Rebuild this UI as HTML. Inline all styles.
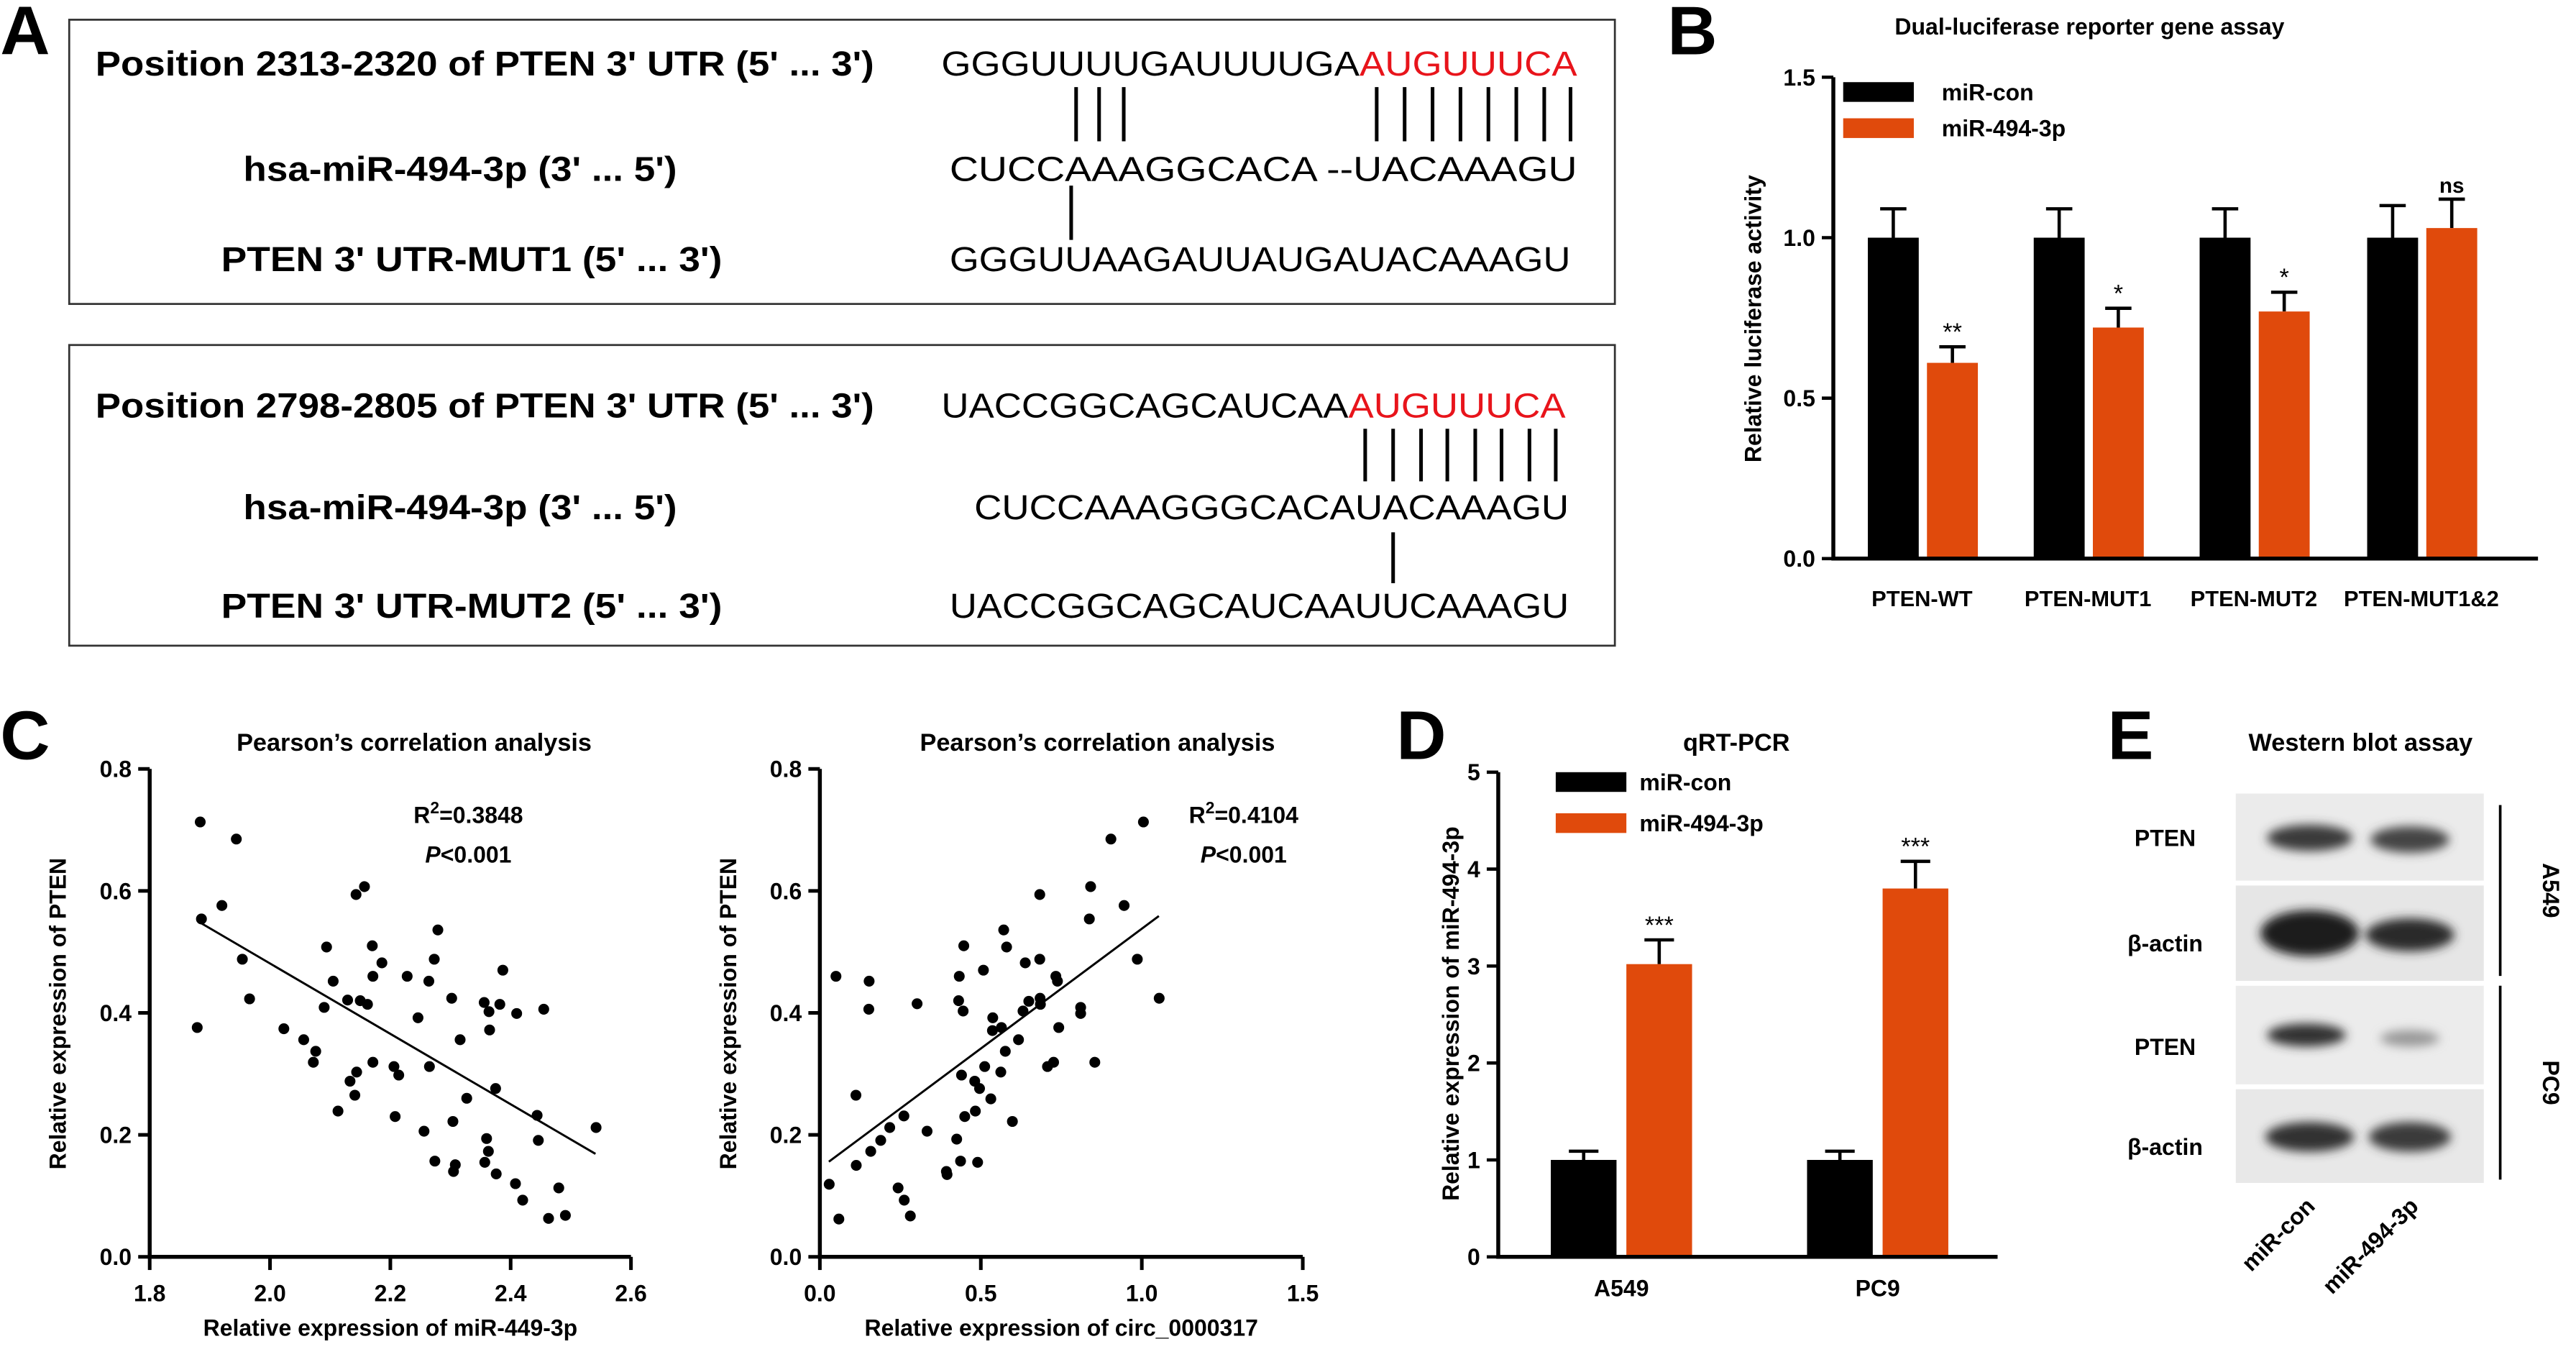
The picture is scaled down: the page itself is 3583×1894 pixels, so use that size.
<!DOCTYPE html>
<html><head><meta charset="utf-8"><style>
html,body{margin:0;padding:0;background:#fff}
svg{display:block;font-family:"Liberation Sans",sans-serif}
</style></head><body>
<svg id="fig" width="3583" height="1894" viewBox="0 0 1568 829" xmlns="http://www.w3.org/2000/svg">
<rect width="1568" height="829" fill="#fff"/>
<!-- Panel letters -->
<g font-weight="bold" font-size="42" fill="#000">
<text x="0" y="33">A</text>
<text x="1015" y="33">B</text>
<text x="0" y="462">C</text>
<text x="850" y="462">D</text>
<text x="1283" y="462">E</text>
</g>
<!-- Panel A -->
<g>
<rect x="42" y="12" width="941" height="173" fill="none" stroke="#333" stroke-width="1.2"/>
<rect x="42" y="210" width="941" height="183" fill="none" stroke="#333" stroke-width="1.2"/>
<g font-weight="bold" font-size="21" text-anchor="middle">
<text x="295" y="46" textLength="474" lengthAdjust="spacingAndGlyphs">Position 2313-2320 of PTEN 3' UTR (5' ... 3')</text>
<text x="280" y="110" textLength="264" lengthAdjust="spacingAndGlyphs">hsa-miR-494-3p (3' ... 5')</text>
<text x="287" y="165" textLength="305" lengthAdjust="spacingAndGlyphs">PTEN 3' UTR-MUT1 (5' ... 3')</text>
<text x="295" y="254" textLength="474" lengthAdjust="spacingAndGlyphs">Position 2798-2805 of PTEN 3' UTR (5' ... 3')</text>
<text x="280" y="316" textLength="264" lengthAdjust="spacingAndGlyphs">hsa-miR-494-3p (3' ... 5')</text>
<text x="287" y="376" textLength="305" lengthAdjust="spacingAndGlyphs">PTEN 3' UTR-MUT2 (5' ... 3')</text>
</g>
<g font-size="21">
<text x="573" y="46" textLength="387" lengthAdjust="spacingAndGlyphs">GGGUUUUGAUUUUGA<tspan fill="#e8141b">AUGUUUCA</tspan></text>
<text x="578" y="110" textLength="382" lengthAdjust="spacingAndGlyphs">CUCCAAAGGCACA --UACAAAGU</text>
<text x="578" y="165" textLength="378" lengthAdjust="spacingAndGlyphs">GGGUUAAGAUUAUGAUACAAAGU</text>
<text x="573" y="254" textLength="380" lengthAdjust="spacingAndGlyphs">UACCGGCAGCAUCAA<tspan fill="#e8141b">AUGUUUCA</tspan></text>
<text x="593" y="316" textLength="362" lengthAdjust="spacingAndGlyphs">CUCCAAAGGGCACAUACAAAGU</text>
<text x="578" y="376" textLength="377" lengthAdjust="spacingAndGlyphs">UACCGGCAGCAUCAAUUCAAAGU</text>
</g>
<g stroke="#000" stroke-width="2.2">
<path d="M655 53V86M669 53V86M684 53V86M838 53V86M855 53V86M872 53V86M889 53V86M906 53V86M923 53V86M940 53V86M956 53V86"/>
<path d="M652 113V146"/>
<path d="M831 261V293M848 261V293M865 261V293M881 261V293M898 261V293M914 261V293M931 261V293M947 261V293"/>
<path d="M848 324V355"/>
</g>
</g>
<g id="charts"></g>
</svg>
<script>
// ---- Panel B data ----
const bCategories = ["PTEN-WT","PTEN-MUT1","PTEN-MUT2","PTEN-MUT1&2"];
const bConValues = [1.0,1.0,1.0,1.0];
const bConErrors = [0.09,0.09,0.09,0.10];
const bMirValues = [0.61,0.72,0.77,1.03];
const bMirErrors = [0.05,0.06,0.06,0.09];
const bSig = ["**","*","*","ns"];
const bTicks = [0.0,0.5,1.0,1.5];
// ---- Panel C left ----
const c1X = [1.884,1.944,1.920,1.886,1.954,1.966,1.879,2.094,2.105,2.090,2.023,2.056,2.076,2.072,2.143,2.157,2.170,2.186,2.171,2.129,2.150,2.162,2.171,2.144,2.133,2.141,2.113,2.228,2.279,2.273,2.264,2.246,2.302,2.316,2.206,2.214,2.265,2.208,2.256,2.274,2.304,2.327,2.305,2.308,2.356,2.364,2.365,2.382,2.387,2.410,2.455,2.375,2.360,2.363,2.357,2.376,2.444,2.446,2.408,2.420,2.480,2.463,2.491,2.542];
const c1Y = [0.713,0.685,0.576,0.554,0.488,0.423,0.376,0.508,0.452,0.409,0.374,0.356,0.337,0.319,0.594,0.607,0.510,0.482,0.460,0.421,0.420,0.414,0.319,0.303,0.288,0.265,0.239,0.460,0.536,0.488,0.452,0.392,0.424,0.356,0.312,0.298,0.312,0.230,0.206,0.157,0.222,0.260,0.140,0.151,0.417,0.402,0.372,0.414,0.470,0.399,0.406,0.276,0.194,0.173,0.155,0.136,0.232,0.191,0.120,0.093,0.113,0.063,0.068,0.212];
const c1Fit = [-0.577,1.635];
const c1FitRange = [1.886,2.541];
const c1XTicks = [1.8,2.0,2.2,2.4,2.6];
const cYTicks = [0.0,0.2,0.4,0.6,0.8];
// ---- Panel C right ----
const c2X = [0.050,0.153,0.152,0.112,0.113,0.158,0.189,0.217,0.261,0.029,0.059,0.243,0.262,0.281,0.302,0.333,0.393,0.395,0.425,0.437,0.490,0.433,0.447,0.431,0.445,0.440,0.450,0.483,0.481,0.496,0.508,0.512,0.531,0.537,0.536,0.564,0.562,0.576,0.598,0.617,0.631,0.638,0.649,0.571,0.580,0.683,0.683,0.684,0.685,0.707,0.726,0.733,0.738,0.742,0.810,0.810,0.854,0.841,0.837,0.904,0.945,0.986,1.005,1.054];
const c2Y = [0.460,0.452,0.406,0.265,0.150,0.173,0.191,0.212,0.231,0.119,0.062,0.113,0.093,0.067,0.415,0.206,0.140,0.135,0.193,0.157,0.155,0.460,0.510,0.420,0.403,0.298,0.230,0.239,0.288,0.276,0.470,0.312,0.259,0.392,0.371,0.376,0.303,0.337,0.222,0.356,0.403,0.482,0.419,0.536,0.508,0.594,0.488,0.424,0.414,0.312,0.319,0.460,0.452,0.376,0.409,0.399,0.319,0.607,0.554,0.685,0.576,0.488,0.713,0.424];
const c2Fit = [0.393,0.145];
const c2FitRange = [0.028,1.053];
const c2XTicks = [0.0,0.5,1.0,1.5];
// ---- Panel D ----
const dCategories = ["A549","PC9"];
const dConValues = [1.0,1.0];
const dConErrors = [0.09,0.09];
const dMirValues = [3.02,3.80];
const dMirErrors = [0.25,0.28];
const dSig = ["***","***"];
const dTicks = [0,1,2,3,4,5];

const NS="http://www.w3.org/2000/svg";
const root=document.getElementById('charts');
function mk(tag,attrs,parent,txt){const e=document.createElementNS(NS,tag);for(const k in attrs)e.setAttribute(k,attrs[k]);if(txt!==undefined)e.textContent=txt;(parent||root).appendChild(e);return e;}
const RED="#e04a0c";

// ===== Panel B =====
(function(){
const g=mk('g',{});


const x0=1116,x1=1545,y0=340,y1=47;
const ys=v=>y0-(v-0)/(1.5-0)*(y0-y1);
const centers=[1170,1271,1372,1474];
const bw=31;
mk('text',{x:1272,y:21,'text-anchor':'middle','font-size':14,'font-weight':'bold'},g,'Dual-luciferase reporter gene assay');
bTicks.forEach(t=>{
 const tk=mk('line',{x1:x0-7,x2:x0,y1:ys(t),y2:ys(t),stroke:'#000','stroke-width':2},g);
 
 
 const tl=mk('text',{x:x0-11,y:ys(t)+5,'text-anchor':'end','font-size':14,'font-weight':'bold'},g,t.toFixed(1));
 
 
});
const yt=mk('text',{transform:'translate(1072,194) rotate(-90)','text-anchor':'middle','font-size':14,'font-weight':'bold'},g,'Relative luciferase activity');


bCategories.forEach((c,i)=>{
 const cx=centers[i];
 const xb=cx-bw-2, xr=cx+3;
 const e1=mk('path',{d:`M${xb+bw/2} ${ys(bConValues[i]+bConErrors[i])}V${ys(bConValues[i])}M${xb+bw/2-8} ${ys(bConValues[i]+bConErrors[i])}H${xb+bw/2+8}`,stroke:'#000','stroke-width':2,fill:'none'},g);
 
 
 const b1=mk('rect',{x:xb,y:ys(bConValues[i]),width:bw,height:y0-ys(bConValues[i]),fill:'#000'},g);
 
 
 const e2=mk('path',{d:`M${xr+bw/2} ${ys(bMirValues[i]+bMirErrors[i])}V${ys(bMirValues[i])}M${xr+bw/2-8} ${ys(bMirValues[i]+bMirErrors[i])}H${xr+bw/2+8}`,stroke:'#000','stroke-width':2,fill:'none'},g);
 
 
 const b2=mk('rect',{x:xr,y:ys(bMirValues[i]),width:bw,height:y0-ys(bMirValues[i]),fill:RED},g);
 
 
 const s=mk('text',{x:xr+bw/2,y:ys(bMirValues[i]+bMirErrors[i])-4,'text-anchor':'middle','font-size':bSig[i]==='ns'?13:15,'font-weight':bSig[i]==='ns'?'bold':'normal'},g,bSig[i]);
 
 
 const xl=mk('text',{x:cx,y:369,'text-anchor':'middle','font-size':13.5,'font-weight':'bold'},g,c);
 
 
});
const ax=mk('path',{d:`M${x0} ${y1}V${y0}H${x1}`,stroke:'#000','stroke-width':2.4,fill:'none'},g);


const lg=mk('g',{},g);


mk('rect',{x:1122,y:50,width:43,height:12,fill:'#000'},lg);
mk('text',{x:1182,y:61,'font-size':14,'font-weight':'bold'},lg,'miR-con');
mk('rect',{x:1122,y:72,width:43,height:12,fill:RED},lg);
mk('text',{x:1182,y:83,'font-size':14,'font-weight':'bold'},lg,'miR-494-3p');
})();

// ===== Scatter builder =====
function scatter(name,xs,ysArr,fit,fitR,xTicks,xr,axX0,axX1,title,xtitle,tcx,rx,r2,rlab){
 const g=mk('g',{});
 
 
 const y0=765,y1=468;
 const sx=v=>axX0+(v-xr[0])/(xr[1]-xr[0])*(axX1-axX0);
 const sy=v=>y0-v/0.8*(y0-y1);
 const t=mk('text',{x:tcx,y:457,'text-anchor':'middle','font-size':15,'font-weight':'bold'},g,title);
 
 
 cYTicks.forEach(v=>{
  const tk=mk('line',{x1:axX0-7,x2:axX0,y1:sy(v),y2:sy(v),stroke:'#000','stroke-width':2.2},g);
  
  
  const tl=mk('text',{x:axX0-11,y:sy(v)+5,'text-anchor':'end','font-size':14,'font-weight':'bold'},g,v.toFixed(1));
  
  
 });
 xTicks.forEach(v=>{
  const tk=mk('line',{x1:sx(v),x2:sx(v),y1:y0,y2:y0+8,stroke:'#000','stroke-width':2.2},g);
  
  
  const tl=mk('text',{x:sx(v),y:y0+27,'text-anchor':'middle','font-size':14,'font-weight':'bold'},g,v.toFixed(1));
  
  
 });
 const ax=mk('path',{d:`M${axX0} ${y1}V${y0}H${axX1}`,stroke:'#000','stroke-width':2.4,fill:'none'},g);
 
 
 const yt=mk('text',{transform:`translate(${axX0-51},617) rotate(-90)`,'text-anchor':'middle','font-size':14,'font-weight':'bold'},g,'Relative expression of PTEN');
 
 
 const xt=mk('text',{x:(axX0+axX1)/2,y:813,'text-anchor':'middle','font-size':14,'font-weight':'bold'},g,xtitle);
 
 
 xs.forEach((x,i)=>{
  const c=mk('circle',{cx:sx(x),cy:sy(ysArr[i]),r:3.3,fill:'#000'},g);
  
  
 });
 const ln=mk('line',{x1:sx(fitR[0]),y1:sy(fit[0]*fitR[0]+fit[1]),x2:sx(fitR[1]),y2:sy(fit[0]*fitR[1]+fit[1]),stroke:'#000','stroke-width':1.3},g);
 
 
 const rt=mk('text',{x:rx,y:501,'text-anchor':'middle','font-size':14,'font-weight':'bold'},g);
 
 
 rt.innerHTML='R<tspan dy="-6" font-size="10">2</tspan><tspan dy="6">='+r2+'</tspan>';
 const pt=mk('text',{x:rx,y:525,'text-anchor':'middle','font-size':14,'font-weight':'bold'},g);
 
 
 pt.innerHTML='<tspan font-style="italic">P</tspan>&lt;0.001';
}
scatter('panel-c-scatter-left',c1X,c1Y,c1Fit,c1FitRange,c1XTicks,[1.8,2.6],91,384,"Pearson\u2019s correlation analysis",'Relative expression of miR-449-3p',252,285,'0.3848');
scatter('panel-c-scatter-right',c2X,c2Y,c2Fit,c2FitRange,c2XTicks,[0,1.5],499,793,"Pearson\u2019s correlation analysis",'Relative expression of circ_0000317',668,757,'0.4104');

// ===== Panel D =====
(function(){
 const g=mk('g',{});
 
 
 const x0=912,x1=1216,y0=765,y1=470;
 const ys=v=>y0-v/5*(y0-y1);
 const centers=[987,1143];const bw=40;
 const t=mk('text',{x:1057,y:457,'text-anchor':'middle','font-size':15,'font-weight':'bold'},g,'qRT-PCR');
 
 
 dTicks.forEach(v=>{
  const tk=mk('line',{x1:x0-7,x2:x0,y1:ys(v),y2:ys(v),stroke:'#000','stroke-width':2},g);
  
  
  const tl=mk('text',{x:x0-11,y:ys(v)+5,'text-anchor':'end','font-size':14,'font-weight':'bold'},g,String(v));
  
  
 });
 const yt=mk('text',{transform:'translate(888,617) rotate(-90)','text-anchor':'middle','font-size':14,'font-weight':'bold'},g,'Relative expression of miR-494-3p');
 
 
 dCategories.forEach((c,i)=>{
  const cx=centers[i];const xb=cx-bw-3,xr=cx+3;
  const e1=mk('path',{d:`M${xb+bw/2} ${ys(dConValues[i]+dConErrors[i])}V${ys(dConValues[i])}M${xb+bw/2-9} ${ys(dConValues[i]+dConErrors[i])}H${xb+bw/2+9}`,stroke:'#000','stroke-width':2,fill:'none'},g);
  
  
  const b1=mk('rect',{x:xb,y:ys(dConValues[i]),width:bw,height:y0-ys(dConValues[i]),fill:'#000'},g);
  
  
  const e2=mk('path',{d:`M${xr+bw/2} ${ys(dMirValues[i]+dMirErrors[i])}V${ys(dMirValues[i])}M${xr+bw/2-9} ${ys(dMirValues[i]+dMirErrors[i])}H${xr+bw/2+9}`,stroke:'#000','stroke-width':2,fill:'none'},g);
  
  
  const b2=mk('rect',{x:xr,y:ys(dMirValues[i]),width:bw,height:y0-ys(dMirValues[i]),fill:RED},g);
  
  
  const s=mk('text',{x:xr+bw/2,y:ys(dMirValues[i]+dMirErrors[i])-4,'text-anchor':'middle','font-size':15},g,dSig[i]);
  
  
  const xl=mk('text',{x:cx,y:789,'text-anchor':'middle','font-size':14,'font-weight':'bold'},g,c);
  
  
 });
 const ax=mk('path',{d:`M${x0} ${y1}V${y0}H${x1}`,stroke:'#000','stroke-width':2.4,fill:'none'},g);
 
 
 const lg=mk('g',{},g);
 
 
 mk('rect',{x:947,y:470,width:43,height:12,fill:'#000'},lg);
 mk('text',{x:998,y:481,'font-size':14,'font-weight':'bold'},lg,'miR-con');
 mk('rect',{x:947,y:495,width:43,height:12,fill:RED},lg);
 mk('text',{x:998,y:506,'font-size':14,'font-weight':'bold'},lg,'miR-494-3p');
})();
</script>
<!-- Panel E (static image-like) -->
<svg style="position:absolute;left:0;top:0" width="3583" height="1894" viewBox="0 0 1568 829">
<defs><filter id="bl" x="-20%" y="-50%" width="140%" height="200%"><feGaussianBlur stdDeviation="3"/></filter></defs>
<text x="1437" y="457" text-anchor="middle" font-size="15" font-weight="bold" font-family="Liberation Sans,sans-serif">Western blot assay</text>
<g>
<rect x="1361" y="483" width="151" height="53" fill="#ebebeb"/>
<rect x="1361" y="539" width="151" height="58" fill="#e6e6e6"/>
<rect x="1361" y="600" width="151" height="60" fill="#ececec"/>
<rect x="1361" y="663" width="151" height="57" fill="#e8e8e8"/>
</g>
<g filter="url(#bl)">
<ellipse cx="1406" cy="510" rx="26" ry="8" fill="#3a3a3a"/>
<ellipse cx="1467" cy="511" rx="24" ry="8" fill="#444"/>
<ellipse cx="1406" cy="568" rx="30" ry="14" fill="#1a1a1a"/>
<ellipse cx="1467" cy="569" rx="27" ry="10" fill="#2c2c2c"/>
<ellipse cx="1404" cy="630" rx="24" ry="7" fill="#333"/>
<ellipse cx="1467" cy="632" rx="18" ry="5" fill="#999"/>
<ellipse cx="1406" cy="692" rx="27" ry="9" fill="#333"/>
<ellipse cx="1467" cy="692" rx="25" ry="9" fill="#3a3a3a"/>
</g>
<g font-size="14" font-weight="bold" font-family="Liberation Sans,sans-serif" text-anchor="middle">
<text x="1318" y="515">PTEN</text>
<text x="1318" y="579">β-actin</text>
<text x="1318" y="642">PTEN</text>
<text x="1318" y="703">β-actin</text>
<text transform="translate(1548,542) rotate(90)">A549</text>
<text transform="translate(1548,659) rotate(90)">PC9</text>
</g>
<path d="M1522 490V594M1522 600V718" stroke="#000" stroke-width="1.6"/>
<g font-size="14" font-weight="bold" font-family="Liberation Sans,sans-serif" text-anchor="end">
<text transform="translate(1410,735) rotate(-45)">miR-con</text>
<text transform="translate(1473,735) rotate(-45)">miR-494-3p</text>
</g>
</svg>
</body></html>
